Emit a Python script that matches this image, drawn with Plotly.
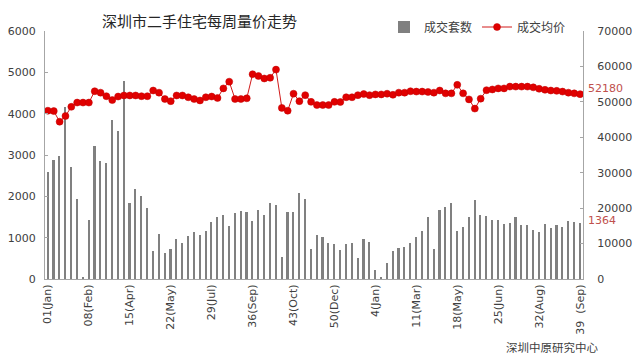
import plotly.graph_objects as go

# --- data ---
weeks_y1 = [f"Y1-W{w:02d}" for w in range(1, 54)]
weeks_y2 = [f"Y2-W{w:02d}" for w in range(1, 40)]
categories = weeks_y1 + weeks_y2

volume = [2600, 2880, 2975, 4150, 2720, 1935, 40, 1430, 3225, 2860,
          2800, 3850, 3590, 4790, 1830, 2180, 2015, 1710, 680, 1100,
          640, 725, 970, 860, 1040, 1140, 1065, 1150, 1380, 1510,
          1550, 1290, 1590, 1650, 1610, 1410, 1670, 1550, 1830, 1790,
          540, 1610, 1610, 2070, 1935, 720, 1065, 1010, 860, 850,
          700, 850, 880, 500, 960, 900, 220, 60, 395, 685,
          750, 765, 860, 1010, 1150, 1510, 730, 1670, 1730, 1830,
          1170, 1265, 1490, 1910, 1555, 1525, 1430, 1430, 1330, 1360,
          1490, 1300, 1300, 1185, 1140, 1330, 1225, 1315, 1265, 1410,
          1380, 1364]

price = [47500, 47400, 44400, 46000, 48600, 49800, 49800, 49800, 53000, 52600,
         51600, 50500, 51500, 51800, 51800, 51800, 51600, 51600, 53200, 52600,
         50800, 50200, 51800, 51800, 51300, 50800, 50400, 51300, 51500, 51100,
         53800, 55700, 50800, 50800, 51000, 57800, 57300, 56600, 56800, 59100,
         48300, 47500, 52300, 50200, 51900, 50000, 49100, 49100, 49100, 50000,
         49950, 51300, 51300, 51900, 52200, 51900, 52100, 52100, 52300, 52000,
         52600, 52600, 53000, 52900, 52900, 52800, 52600, 53200, 52400, 52400,
         54800, 52400, 50700, 48100, 50900, 53300, 53500, 53800, 53800, 54300,
         54300, 54300, 54300, 54100, 53700, 53400, 53200, 53100, 52900, 52600,
         52400, 52180]

tick_labels = ["01(Jan)", "08(Feb)", "15(Apr)", "22(May)", "29(Jul)", "36(Sep)",
               "43(Oct)", "50(Dec)", "4(Jan)", "11(Mar)", "18(May)", "25(Jun)",
               "32(Aug)", "39  (Sep)"]

left_ticks = [0, 1000, 2000, 3000, 4000, 5000, 6000]
right_ticks = [0, 10000, 20000, 30000, 40000, 50000, 60000, 70000]

title_text = "深圳市二手住宅每周量价走势"
source_text = "深圳中原研究中心"
vol_name = "成交套数"
price_name = "成交均价"

FONT = "DejaVu Sans"
CJK = "Noto Sans CJK SC"
AXIS_COLOR = "#a6a6a6"
TEXT_COLOR = "#404040"

fig = go.Figure()
fig.add_trace(go.Bar(
    x=categories, y=volume, name=vol_name,
    marker=dict(color="#808080", line=dict(width=0)),
    width=0.28, yaxis="y",
))
fig.add_trace(go.Scatter(
    x=categories, y=price, name=price_name, yaxis="y2",
    mode="lines+markers",
    line=dict(color="#d11a1a", width=1),
    marker=dict(color="#e00000", size=7, line=dict(color="#c00000", width=0.5)),
))

fig.update_layout(
    width=640, height=358,
    margin=dict(l=45, r=57, t=31, b=79, autoexpand=False),
    paper_bgcolor="white", plot_bgcolor="white",
    font=dict(family=FONT, size=11, color=TEXT_COLOR),
    bargap=0,
    showlegend=True,
    legend=dict(orientation="h", xref="container", yref="container",
                x=384 / 640, xanchor="left", y=1 - 27 / 358, yanchor="middle",
                font=dict(family=CJK, size=12, color=TEXT_COLOR),
                bgcolor="rgba(0,0,0,0)", itemwidth=30, tracegroupgap=0),
    xaxis=dict(
        type="category", categoryorder="array", categoryarray=categories,
        range=[-0.5, len(categories) - 0.5],
        tickmode="array", tickvals=categories[::7], ticktext=tick_labels,
        tickangle=-90, showgrid=False, zeroline=False,
        showline=True, linecolor=AXIS_COLOR, linewidth=1,
        ticks="", tickfont=dict(family=FONT, size=11, color=TEXT_COLOR),
    ),
    yaxis=dict(
        range=[0, 6000], tickmode="array", tickvals=left_ticks,
        ticktext=[str(v) for v in left_ticks],
        showgrid=False, zeroline=False,
        showline=True, linecolor=AXIS_COLOR, linewidth=1,
        ticks="inside", ticklen=3, tickcolor=AXIS_COLOR, ticklabelstandoff=6,
        tickfont=dict(family=FONT, size=11, color=TEXT_COLOR),
    ),
    yaxis2=dict(
        range=[0, 70000], tickmode="array", tickvals=right_ticks,
        ticktext=[str(v) for v in right_ticks],
        overlaying="y", side="right",
        showgrid=False, zeroline=False,
        showline=True, linecolor=AXIS_COLOR, linewidth=1,
        ticks="inside", ticklen=3, tickcolor=AXIS_COLOR, ticklabelstandoff=11,
        tickfont=dict(family=FONT, size=11, color=TEXT_COLOR),
    ),
    annotations=[
        dict(text=title_text, xref="paper", yref="paper", x=0.288, y=1.044,
             xanchor="center", yanchor="middle", showarrow=False,
             font=dict(family=CJK, size=15, color="#262626")),
        dict(text=str(price[-1]), xref="paper", yref="y2", x=1.0, y=price[-1] + 1700,
             xanchor="left", yanchor="middle", showarrow=False, xshift=3,
             font=dict(family=FONT, size=11, color="#c0504d")),
        dict(text=str(volume[-1]), xref="paper", yref="y", x=1.0, y=volume[-1] + 40,
             xanchor="left", yanchor="middle", showarrow=False, xshift=3,
             font=dict(family=FONT, size=11, color="#c0504d")),
        dict(text=source_text, xref="paper", yref="paper",
             x=1.0316, y=-0.274,
             xanchor="right", yanchor="middle", showarrow=False, bgcolor="white",
             font=dict(family=CJK, size=11.5, color="#404040")),
    ],
)

fig.write_html("out.html", config={"displayModeBar": False},
               post_script="document.body.style.margin='0';document.body.style.padding='0';")
